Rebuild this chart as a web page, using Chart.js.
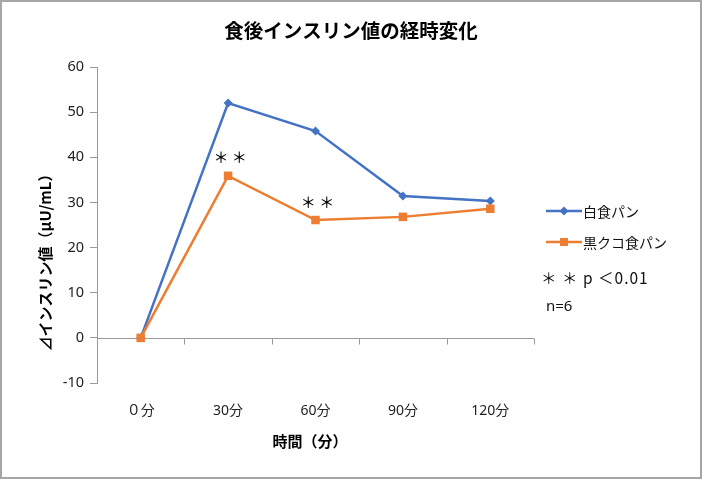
<!DOCTYPE html>
<html>
<head>
<meta charset="utf-8">
<script src="https://cdn.jsdelivr.net/npm/chart.js@4"></script>
<style>
html,body{margin:0;padding:0;background:#fff;}
canvas{display:block;}
</style>
</head>
<body>
<canvas id="c" width="702" height="479"></canvas>
<script>
// ---- data ----
const categories = ['０分', '30分', '60分', '90分', '120分'];
const whiteBread = [0, 52.0, 45.8, 31.4, 30.3];
const blackBread = [0, 35.9, 26.1, 26.8, 28.6];
const seriesNames = ['白食パン', '黒クコ食パン'];
const yTicks = [-10, 0, 10, 20, 30, 40, 50, 60];
const sigMarks = [{ index: 1, value: 40.1, text: '＊ ＊' }, { index: 2, value: 30.1, text: '＊ ＊' }];
const noteLines = ['＊ ＊ p ＜0.01', 'n=6'];
const chartTitle = '食後インスリン値の経時変化';
const yTitle = '⊿インスリン値（μU/mL）';
const xTitle = '時間（分）';

const FONT = "'Noto Sans', 'Noto Sans CJK JP', sans-serif";
const JFONT = "'Noto Sans CJK JP', sans-serif";
const BLUE = '#4472C4';
const ORANGE = '#ED7D31';
const AXIS = '#9a9a9a';

const decor = {
  id: 'decor',
  beforeDraw(chart) {
    const ctx = chart.ctx;
    ctx.save();
    ctx.fillStyle = '#fff';
    ctx.fillRect(0, 0, chart.width, chart.height);
    ctx.restore();
  },
  beforeDatasetsDraw(chart) {
    const ctx = chart.ctx;
    const xs = chart.scales.x, ys = chart.scales.y;
    const area = chart.chartArea;
    ctx.save();
    // horizontal axis line at value 0 with category-boundary ticks
    const y0 = Math.round(ys.getPixelForValue(0)) + 0.5;
    ctx.strokeStyle = AXIS;
    ctx.lineWidth = 1;
    ctx.beginPath();
    ctx.moveTo(area.left, y0);
    ctx.lineTo(area.right, y0);
    for (let i = 0; i <= categories.length; i++) {
      const px = Math.round(xs.getPixelForValue(i - 0.5)) + 0.5;
      ctx.moveTo(px, y0);
      ctx.lineTo(px, y0 + 6);
    }
    ctx.stroke();
    ctx.restore();
  },
  afterDraw(chart) {
    const ctx = chart.ctx;
    const xs = chart.scales.x, ys = chart.scales.y;
    ctx.save();
    // frame
    ctx.strokeStyle = '#a6a6a6';
    ctx.lineWidth = 2;
    ctx.strokeRect(1, 1, chart.width - 2, chart.height - 2);
    // title
    ctx.fillStyle = '#000';
    ctx.textAlign = 'center';
    ctx.textBaseline = 'middle';
    ctx.font = 'bold 19.5px ' + JFONT;
    ctx.fillText(chartTitle, 351, 31);
    // x title
    ctx.font = 'bold 15px ' + JFONT;
    ctx.fillText(xTitle, 310, 441);
    // y title
    ctx.save();
    ctx.translate(45, 259);
    ctx.rotate(-Math.PI / 2);
    ctx.font = 'bold 15px ' + JFONT;
    ctx.fillText(yTitle, 0, 0);
    ctx.restore();
    // significance marks
    ctx.font = '500 15px ' + JFONT;
    ctx.fillStyle = '#000';
    sigMarks.forEach(m => {
      ctx.fillText(m.text, xs.getPixelForValue(m.index) + 2, ys.getPixelForValue(m.value));
    });
    // legend
    const lx = 546, ly = [211, 242];
    const colors = [BLUE, ORANGE];
    ctx.textAlign = 'left';
    ctx.font = '14px ' + JFONT;
    for (let i = 0; i < 2; i++) {
      ctx.strokeStyle = colors[i];
      ctx.lineWidth = 2.5;
      ctx.beginPath();
      ctx.moveTo(lx, ly[i]);
      ctx.lineTo(lx + 36, ly[i]);
      ctx.stroke();
      ctx.fillStyle = colors[i];
      if (i === 0) {
        ctx.beginPath();
        ctx.moveTo(lx + 18, ly[i] - 4.5);
        ctx.lineTo(lx + 22.5, ly[i]);
        ctx.lineTo(lx + 18, ly[i] + 4.5);
        ctx.lineTo(lx + 13.5, ly[i]);
        ctx.closePath();
        ctx.fill();
      } else {
        ctx.fillRect(lx + 14, ly[i] - 4, 8, 8);
      }
      ctx.fillStyle = '#111';
      ctx.fillText(seriesNames[i], lx + 37, ly[i] + 1);
    }
    ctx.font = '15.5px ' + JFONT;
    ctx.letterSpacing = '1px';
    ctx.fillText(noteLines[0], 541, 278);
    ctx.letterSpacing = '0px';
    ctx.font = '15px ' + FONT;
    ctx.fillText(noteLines[1], 546, 307);
    ctx.restore();
  }
};

new Chart(document.getElementById('c'), {
  type: 'line',
  data: {
    labels: categories,
    datasets: [
      {
        label: seriesNames[0],
        data: whiteBread,
        borderColor: BLUE,
        backgroundColor: BLUE,
        borderWidth: 2.5,
        pointStyle: 'rectRot',
        pointRadius: 4.5,
        pointBorderWidth: 0,
        tension: 0,
        order: 2
      },
      {
        label: seriesNames[1],
        data: blackBread,
        borderColor: ORANGE,
        backgroundColor: ORANGE,
        borderWidth: 2.5,
        pointStyle: 'rect',
        pointRadius: 6,
        pointBorderWidth: 0,
        tension: 0,
        order: 1
      }
    ]
  },
  options: {
    responsive: false,
    animation: false,
    events: [],
    layout: { padding: { top: 67, right: 168, bottom: 0, left: 0 } },
    plugins: {
      legend: { display: false },
      title: { display: false },
      tooltip: { enabled: false }
    },
    scales: {
      x: {
        type: 'category',
        offset: true,
        grid: { display: false, drawTicks: false },
        border: { display: false },
        ticks: {
          padding: 20,
          color: '#222',
          font: { family: FONT, size: 14 },
          maxRotation: 0
        },
        afterFit(s) { s.height = 96; }
      },
      y: {
        min: -10,
        max: 60,
        afterBuildTicks(s) { s.ticks = yTicks.map(v => ({ value: v })); },
        grid: { drawOnChartArea: false, drawTicks: true, tickLength: 7, color: AXIS },
        border: { display: true, color: AXIS, width: 1 },
        ticks: {
          padding: 6,
          color: '#222',
          font: { family: FONT, size: 14.5 }
        },
        afterFit(s) { s.width = 97; }
      }
    }
  },
  plugins: [decor]
});
</script>
</body>
</html>
